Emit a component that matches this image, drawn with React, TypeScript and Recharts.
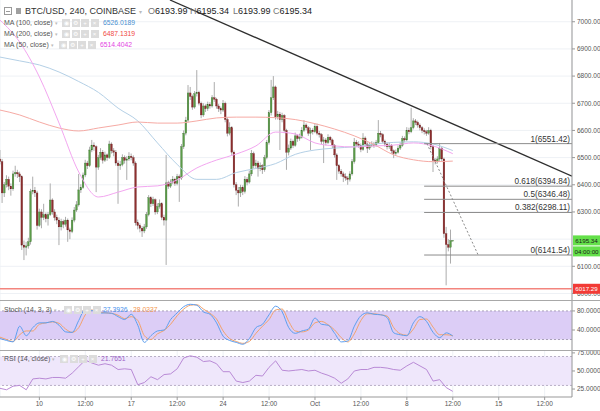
import React from "react";
import {
  ComposedChart,
  Bar,
  Line,
  XAxis,
  YAxis,
  CartesianGrid,
  ReferenceLine,
  ReferenceArea,
} from "recharts";

// 4h candles, BTC/USD Coinbase, from Sep 7 00:00 (index 0) to Oct 11 12:00 (index 207)
const opens = [
  6495, 6485, 6370, 6400, 6420, 6395, 6385, 6440, 6445, 6440,
  6430, 6178, 6170, 6175, 6190, 6375, 6380, 6370, 6250, 6300,
  6280, 6290, 6275, 6290, 6344, 6300, 6280, 6270, 6245, 6265,
  6255, 6270, 6234, 6228, 6270, 6307, 6326, 6381, 6390, 6436,
  6480, 6470, 6528, 6546, 6540, 6465, 6500, 6520, 6490, 6510,
  6500, 6550, 6525, 6520, 6480, 6470, 6475, 6500, 6490, 6495,
  6505, 6500, 6480, 6260, 6250, 6240, 6230, 6245, 6290, 6352,
  6330, 6345, 6300, 6320, 6330, 6280, 6270, 6407, 6395, 6410,
  6420, 6405, 6430, 6425, 6540, 6590, 6638, 6738, 6725, 6686,
  6735, 6740, 6700, 6657, 6690, 6680, 6695, 6690, 6720, 6715,
  6690, 6680, 6675, 6700, 6640, 6590, 6610, 6520, 6400, 6380,
  6370, 6390, 6375, 6420, 6410, 6440, 6515, 6470, 6480, 6460,
  6470, 6455, 6500, 6555, 6665, 6720, 6760, 6650, 6660, 6640,
  6655, 6600, 6520, 6535, 6560, 6545, 6580, 6570, 6575, 6600,
  6620, 6610, 6590, 6600, 6595, 6615, 6590, 6585, 6560, 6565,
  6555, 6575, 6565, 6545, 6510, 6470, 6450, 6440, 6430, 6425,
  6420, 6440, 6485, 6557, 6550, 6545, 6530, 6572, 6550, 6535,
  6545, 6550, 6545, 6555, 6590, 6585, 6560, 6550, 6540, 6545,
  6525, 6515, 6520, 6535, 6545, 6570, 6565, 6600, 6595, 6610,
  6635, 6630, 6620, 6610, 6600, 6595, 6590, 6600, 6540, 6490,
  6485, 6495, 6535, 6495, 6220, 6180, 6170, 6193.99,
];
const highs = [
  6528, 6495, 6410, 6435, 6430, 6405, 6452, 6470, 6455, 6448,
  6435, 6195, 6190, 6205, 6385, 6430, 6392, 6378, 6312, 6310,
  6330, 6298, 6300, 6405, 6350, 6310, 6290, 6280, 6275, 6272,
  6282, 6276, 6242, 6280, 6318, 6340, 6440, 6402, 6445, 6492,
  6488, 6540, 6565, 6556, 6545, 6510, 6535, 6528, 6522, 6515,
  6562, 6556, 6535, 6528, 6490, 6488, 6512, 6508, 6505, 6520,
  6515, 6508, 6486, 6272, 6258, 6248, 6256, 6300, 6362, 6358,
  6356, 6350, 6332, 6346, 6336, 6290, 6510, 6415, 6420, 6432,
  6426, 6440, 6438, 6550, 6600, 6650, 6767, 6760, 6732, 6745,
  6822, 6746, 6706, 6700, 6696, 6706, 6704, 6730, 6778, 6720,
  6698, 6688, 6712, 6706, 6648, 6630, 6616, 6526, 6410, 6392,
  6400, 6398, 6432, 6428, 6452, 6528, 6522, 6492, 6488, 6482,
  6476, 6510, 6565, 6675, 6786, 6800, 6765, 6672, 6668, 6665,
  6660, 6606, 6548, 6570, 6566, 6592, 6586, 6588, 6612, 6638,
  6626, 6616, 6610, 6608, 6626, 6625, 6598, 6590, 6576, 6572,
  6586, 6580, 6570, 6550, 6516, 6476, 6458, 6448, 6442, 6432,
  6450, 6495, 6572, 6565, 6560, 6552, 6590, 6578, 6556, 6555,
  6560, 6558, 6565, 6638, 6598, 6590, 6566, 6556, 6555, 6550,
  6530, 6530, 6545, 6556, 6580, 6578, 6612, 6610, 6683, 6645,
  6642, 6636, 6626, 6616, 6608, 6602, 6612, 6606, 6546, 6498,
  6505, 6554, 6540, 6500, 6245, 6200, 6235, 6195.34,
];
const lows = [
  6475, 6333, 6355, 6390, 6380, 6360, 6378, 6430, 6425, 6410,
  6160, 6123, 6140, 6165, 6180, 6365, 6355, 6235, 6245, 6240,
  6270, 6262, 6250, 6285, 6290, 6268, 6255, 6178, 6232, 6240,
  6246, 6190, 6200, 6222, 6262, 6300, 6320, 6370, 6385, 6428,
  6458, 6465, 6520, 6525, 6373, 6455, 6492, 6478, 6484, 6488,
  6495, 6515, 6505, 6470, 6330, 6455, 6468, 6478, 6418, 6488,
  6490, 6470, 6250, 6236, 6225, 6208, 6222, 6238, 6284, 6318,
  6322, 6290, 6292, 6312, 6270, 6250, 6105, 6385, 6388, 6402,
  6396, 6398, 6337, 6418, 6532, 6582, 6630, 6712, 6676, 6680,
  6725, 6692, 6645, 6650, 6668, 6672, 6680, 6684, 6705, 6680,
  6668, 6660, 6668, 6630, 6578, 6582, 6508, 6390, 6362, 6320,
  6355, 6362, 6368, 6398, 6404, 6432, 6460, 6462, 6430, 6450,
  6440, 6448, 6494, 6548, 6655, 6712, 6640, 6640, 6528, 6630,
  6590, 6455, 6508, 6528, 6535, 6540, 6558, 6562, 6570, 6594,
  6600, 6580, 6528, 6585, 6590, 6582, 6574, 6550, 6480, 6545,
  6550, 6555, 6535, 6500, 6418, 6440, 6430, 6410, 6415, 6400,
  6412, 6434, 6478, 6540, 6536, 6520, 6525, 6540, 6517, 6528,
  6538, 6536, 6540, 6550, 6575, 6552, 6540, 6530, 6532, 6515,
  6498, 6508, 6515, 6528, 6540, 6556, 6560, 6586, 6590, 6604,
  6620, 6610, 6600, 6590, 6585, 6580, 6584, 6530, 6447, 6475,
  6478, 6488, 6485, 6205, 6030, 6155, 6110, 6193.99,
];
const closes = [
  6485, 6370, 6400, 6420, 6395, 6385, 6440, 6445, 6440, 6430,
  6178, 6170, 6175, 6190, 6375, 6380, 6370, 6250, 6300, 6280,
  6290, 6275, 6290, 6344, 6300, 6280, 6270, 6245, 6265, 6255,
  6270, 6234, 6228, 6270, 6307, 6326, 6381, 6390, 6436, 6480,
  6470, 6528, 6546, 6540, 6465, 6500, 6520, 6490, 6510, 6500,
  6550, 6525, 6520, 6480, 6470, 6475, 6500, 6490, 6495, 6505,
  6500, 6480, 6260, 6250, 6240, 6230, 6245, 6290, 6352, 6330,
  6345, 6300, 6320, 6330, 6280, 6270, 6407, 6395, 6410, 6420,
  6405, 6430, 6425, 6540, 6590, 6638, 6738, 6725, 6686, 6735,
  6740, 6700, 6657, 6690, 6680, 6695, 6690, 6720, 6715, 6690,
  6680, 6675, 6700, 6640, 6590, 6610, 6520, 6400, 6380, 6370,
  6390, 6375, 6420, 6410, 6440, 6515, 6470, 6480, 6460, 6470,
  6455, 6500, 6555, 6665, 6720, 6760, 6650, 6660, 6640, 6655,
  6600, 6520, 6535, 6560, 6545, 6580, 6570, 6575, 6600, 6620,
  6610, 6590, 6600, 6595, 6615, 6590, 6585, 6560, 6565, 6555,
  6575, 6565, 6545, 6510, 6470, 6450, 6440, 6430, 6425, 6420,
  6440, 6485, 6557, 6550, 6545, 6530, 6572, 6550, 6535, 6545,
  6550, 6545, 6555, 6590, 6585, 6560, 6550, 6540, 6545, 6525,
  6515, 6520, 6535, 6545, 6570, 6565, 6600, 6595, 6610, 6635,
  6630, 6620, 6610, 6600, 6595, 6590, 6600, 6540, 6490, 6485,
  6495, 6535, 6495, 6220, 6180, 6170, 6193.99, 6195.34,
];

// moving averages, read every 9th candle
const MA_STEP = 9;
const ma100 = [6870, 6856, 6841, 6815, 6780, 6740, 6682, 6635, 6554, 6475, 6420, 6420, 6445, 6460, 6478, 6512, 6528, 6535, 6540, 6550, 6556, 6558, 6550, 6526.02];
const ma200 = [6675, 6657, 6631, 6609, 6598, 6609, 6620, 6631, 6627, 6627, 6635, 6646, 6649, 6649, 6647, 6640, 6625, 6605, 6580, 6548, 6510, 6492, 6485, 6487.13];
const ma50 = [7006, 6925, 6797, 6627, 6447, 6355, 6373, 6392, 6396, 6418, 6462, 6491, 6513, 6543, 6594, 6587, 6554, 6543, 6539, 6543, 6546, 6554, 6543, 6514.4];
const maLegend = ["6526.0189", "6487.1319", "6514.4042"];

// oscillators, read every 3rd candle
const IND_STEP = 3;
const stochK = [22, 18, 15, 48, 28, 45, 55, 55, 58, 50, 36, 35, 60, 84, 81, 75, 76, 75, 68, 62, 73, 50, 14, 28, 38, 40, 62, 76, 89, 94, 92, 78, 73, 55, 27, 18, 14, 10, 22, 45, 52, 72, 90, 78, 45, 33, 38, 42, 65, 52, 50, 33, 15, 17, 48, 70, 76, 73, 72, 66, 34, 30, 28, 55, 68, 58, 35, 24, 34, 27.39];
const stochD = [25, 20, 16, 30, 38, 38, 52, 55, 57, 54, 42, 35, 45, 72, 82, 78, 76, 75, 71, 64, 68, 60, 28, 20, 32, 39, 52, 70, 84, 92, 93, 84, 75, 63, 38, 22, 16, 12, 16, 33, 48, 62, 82, 84, 58, 38, 36, 40, 55, 58, 51, 40, 24, 15, 32, 60, 74, 74, 72, 69, 45, 32, 29, 42, 62, 63, 46, 30, 30, 28.03];
const rsi = [26, 24, 29, 30, 24, 39, 40, 39, 41, 41, 40, 47, 56, 65, 61, 58, 60, 58, 52, 53, 52, 31, 34, 42, 38, 45, 46, 53, 68, 71, 69, 63, 64, 60, 49, 49, 36, 34, 36, 44, 43, 55, 64, 51, 50, 51, 52, 50, 51, 47, 44, 40, 33, 39, 50, 52, 52, 55, 55, 54, 52, 51, 57, 62, 57, 52, 36, 38, 27, 21.77];
const stochLegend = ["27.3926", "28.0337"];
const rsiLegend = "21.7651";

const timeTicks = [18, 39, 60, 81, 102, 123, 144, 165, 186, 207, 228, 249];
const timeLabels = ["10", "12:00", "17", "12:00", "24", "12:00", "Oct", "12:00", "8", "12:00", "15", "12:00"];
// 6200 sits under the last-price tag, so it is not labelled
const priceTicks = [6000, 6100, 6300, 6400, 6500, 6600, 6700, 6800, 6900, 7000];
const gridPrices = [6000, 6100, 6200, 6300, 6400, 6500, 6600, 6700, 6800, 6900, 7000];

const fibRatios = ["1", "0.618", "0.5", "0.382", "0"];
const fibPrices = [6551.42, 6394.84, 6346.48, 6298.11, 6141.54];
const fibStart = 193.9;
const fibTrend = [
  { x: 195.2, y: 6551.42 },
  { x: 218.6, y: 6141.54 },
];
const trendLine = [
  { x: 77.7, y: 7080 },
  { x: 261.5, y: 6432 },
];
const supportPrice = 6017.29;
const countdown = "04:00:00";

const X_MAX = 261.5;
const PRICE_DOMAIN = [5976, 7080];
const FONT = '"Liberation Sans", Arial, sans-serif';
const AXIS_TICK = { fontSize: 6.5, fill: "#555", fontFamily: FONT };

const rows = closes.map((c, i) => ({
  i,
  o: opens[i],
  h: highs[i],
  l: lows[i],
  c,
  range: [lows[i], highs[i]],
  ma100: i % MA_STEP === 0 ? ma100[i / MA_STEP] : null,
  ma200: i % MA_STEP === 0 ? ma200[i / MA_STEP] : null,
  ma50: i % MA_STEP === 0 ? ma50[i / MA_STEP] : null,
}));

const indRows = stochK.map((k, j) => ({
  i: j * IND_STEP,
  k,
  d: stochD[j],
  rsi: rsi[j],
}));

function Candle(props: any) {
  const { x, y, width, height, payload } = props;
  if (x == null || !payload) return null;
  const { o, h, l, c } = payload;
  const top = Math.min(y, y + height);
  const hh = Math.abs(height);
  const cx = x + width / 2;
  const k = h > l ? hh / (h - l) : 0;
  const yOf = (v: number) => top + (h - v) * k;
  const up = c >= o;
  const bTop = yOf(Math.max(o, c));
  const bH = Math.max(0.8, Math.abs(yOf(o) - yOf(c)));
  return (
    <g>
      <line x1={cx} x2={cx} y1={top} y2={top + hh} stroke="#a3a3a3" strokeWidth={0.9} />
      <rect
        x={cx - 0.85}
        y={bTop}
        width={1.7}
        height={bH}
        fill={up ? "#5b9c49" : "#8e2f2f"}
        stroke={up ? "#3c6e30" : "#6a1f1f"}
        strokeWidth={0.3}
      />
    </g>
  );
}

const priceTag = (lines: string[], bg: string, fg: string) => (p: any) => {
  const vb = p.viewBox;
  if (!vb) return null;
  const x0 = vb.x + vb.width + 1;
  const yc = vb.y;
  return (
    <g>
      {lines.map((t, n) => (
        <g key={n}>
          <rect x={x0} y={yc - 5 + n * 11} width={27} height={10} fill={bg} />
          <text
            x={x0 + 13.5}
            y={yc + 2.3 + n * 11}
            fontSize={6.2}
            fill={fg}
            fontFamily={FONT}
            textAnchor="middle"
          >
            {t}
          </text>
        </g>
      ))}
    </g>
  );
};

function Icons({ left, top }: { left: number; top: number }) {
  const glyphs = ["◉", "⚙", "+", "×"];
  return (
    <div style={{ position: "absolute", left, top, display: "flex", gap: 1.5 }}>
      {glyphs.map((g, n) => (
        <span
          key={n}
          style={{
            width: 8,
            height: 8,
            background: "#dcdcdc",
            color: "#fff",
            fontSize: 6,
            lineHeight: "8px",
            textAlign: "center",
            display: "inline-block",
          }}
        >
          {g}
        </span>
      ))}
    </div>
  );
}

function LegendRow(props: {
  top: number;
  label: string;
  iconsAt: number;
  values: { text: string; color: string; left: number }[];
}) {
  return (
    <>
      <div style={{ position: "absolute", left: 4, top: props.top, fontSize: 7, color: "#555", whiteSpace: "nowrap", lineHeight: "8px" }}>
        {props.label} <span style={{ color: "#bbb", fontSize: 5 }}>▾</span>
      </div>
      <Icons left={props.iconsAt} top={props.top} />
      {props.values.map((v, n) => (
        <div key={n} style={{ position: "absolute", left: v.left, top: props.top, fontSize: 6.8, color: v.color, lineHeight: "8px" }}>
          {v.text}
        </div>
      ))}
    </>
  );
}

export default function App() {
  const last = rows.length - 1;
  return (
    <div
      style={{
        position: "absolute",
        left: 0,
        top: 0,
        width: 600,
        height: 411,
        background: "#fff",
        overflow: "hidden",
        fontFamily: FONT,
      }}
    >
      {/* main price pane */}
      <div style={{ position: "absolute", left: 0, top: 0 }}>
        <ComposedChart width={600} height={300} data={rows} margin={{ top: 0, right: 0, bottom: 0, left: 0 }}>
          <CartesianGrid stroke="#eef1f5" horizontalValues={gridPrices} />
          <XAxis
            dataKey="i"
            type="number"
            domain={[0, X_MAX]}
            ticks={timeTicks}
            allowDataOverflow
            height={0}
            tick={false}
            axisLine={false}
            tickLine={false}
          />
          <YAxis
            orientation="right"
            width={28}
            domain={PRICE_DOMAIN}
            ticks={priceTicks}
            interval={0}
            allowDataOverflow
            tick={AXIS_TICK}
            tickSize={3}
            tickMargin={2}
            tickLine={{ stroke: "#999" }}
            axisLine={{ stroke: "#999" }}
            tickFormatter={(v: number) => v.toFixed(2)}
          />
          <Line type="monotone" dataKey="ma100" stroke="#b4d0e6" strokeWidth={1} dot={false} connectNulls isAnimationActive={false} />
          <Line type="monotone" dataKey="ma200" stroke="#f6aaa4" strokeWidth={1} dot={false} connectNulls isAnimationActive={false} />
          <Line type="monotone" dataKey="ma50" stroke="#f3a6f0" strokeWidth={1} dot={false} connectNulls isAnimationActive={false} />
          <Bar dataKey="range" barSize={2} shape={<Candle />} isAnimationActive={false} />
          <ReferenceLine segment={trendLine} stroke="#2e2e2e" strokeWidth={1.3} ifOverflow="hidden" />
          <ReferenceLine segment={fibTrend} stroke="#8a8a8a" strokeDasharray="2 2" ifOverflow="hidden" />
          {fibPrices.map((p, n) => (
            <ReferenceLine
              key={n}
              segment={[
                { x: fibStart, y: p },
                { x: X_MAX, y: p },
              ]}
              stroke="#8c8c8c"
              ifOverflow="hidden"
              label={{
                value: `${fibRatios[n]}(${p.toFixed(2)})`,
                position: "insideBottomRight",
                offset: 2,
                fontSize: 8.2,
                fill: "#333",
                fontFamily: FONT,
              }}
            />
          ))}
        </ComposedChart>
      </div>

      {/* overlay with the price-axis tags, drawn above the axis labels */}
      <div style={{ position: "absolute", left: 0, top: 0 }}>
        <ComposedChart width={600} height={300} data={rows} margin={{ top: 0, right: 0, bottom: 0, left: 0 }}>
          <XAxis dataKey="i" type="number" domain={[0, X_MAX]} allowDataOverflow height={0} tick={false} axisLine={false} tickLine={false} />
          <YAxis orientation="right" width={28} domain={PRICE_DOMAIN} allowDataOverflow tick={false} axisLine={false} tickLine={false} />
          <ReferenceLine
            y={supportPrice}
            stroke="#f3857e"
            strokeWidth={1.6}
            label={priceTag([supportPrice.toFixed(2)], "#f23b36", "#fff")}
          />
          <ReferenceLine
            y={closes[last]}
            stroke="none"
            strokeOpacity={0}
            label={priceTag([closes[last].toFixed(2), countdown], "#64e04a", "#1a1a1a")}
          />
        </ComposedChart>
      </div>

      {/* stochastic pane */}
      <div style={{ position: "absolute", left: 0, top: 300 }}>
        <ComposedChart width={600} height={50} data={indRows} margin={{ top: 0, right: 0, bottom: 0, left: 0 }}>
          <CartesianGrid stroke="#eef1f5" horizontal={false} />
          <XAxis dataKey="i" type="number" domain={[0, X_MAX]} ticks={timeTicks} allowDataOverflow height={0} tick={false} axisLine={false} tickLine={false} />
          <YAxis
            orientation="right"
            width={28}
            domain={[-2, 103]}
            ticks={[40, 80]}
            interval={0}
            allowDataOverflow
            tick={AXIS_TICK}
            tickSize={3}
            tickMargin={2}
            tickLine={{ stroke: "#999" }}
            axisLine={{ stroke: "#999" }}
            tickFormatter={(v: number) => v.toFixed(4)}
          />
          <ReferenceArea y1={20} y2={80} fill="#dccdf6" fillOpacity={1} stroke="none" />
          <ReferenceLine y={80} stroke="#a9a0b8" strokeDasharray="2 2" />
          <ReferenceLine y={20} stroke="#a9a0b8" strokeDasharray="2 2" />
          <Line type="monotone" dataKey="d" stroke="#f3a26c" strokeWidth={1} dot={false} isAnimationActive={false} />
          <Line type="monotone" dataKey="k" stroke="#5d9ff0" strokeWidth={1} dot={false} isAnimationActive={false} />
        </ComposedChart>
      </div>

      {/* RSI pane + time axis */}
      <div style={{ position: "absolute", left: 0, top: 350 }}>
        <ComposedChart width={600} height={61} data={indRows} margin={{ top: 0, right: 0, bottom: 0, left: 0 }}>
          <CartesianGrid stroke="#eef1f5" horizontal={false} />
          <XAxis
            dataKey="i"
            type="number"
            domain={[0, X_MAX]}
            ticks={timeTicks}
            interval={0}
            allowDataOverflow
            height={14}
            tick={AXIS_TICK}
            tickSize={3}
            tickMargin={1}
            tickLine={{ stroke: "#999" }}
            axisLine={{ stroke: "#999" }}
            tickFormatter={(v: number) => timeLabels[timeTicks.indexOf(v)]}
          />
          <YAxis
            orientation="right"
            width={28}
            domain={[14, 79]}
            ticks={[25, 50, 75]}
            interval={0}
            allowDataOverflow
            tick={AXIS_TICK}
            tickSize={3}
            tickMargin={2}
            tickLine={{ stroke: "#999" }}
            axisLine={{ stroke: "#999" }}
            tickFormatter={(v: number) => v.toFixed(4)}
          />
          <ReferenceArea y1={30} y2={70} fill="#efe7fb" fillOpacity={1} stroke="none" />
          <ReferenceLine y={70} stroke="#b8b0c6" strokeDasharray="2 2" />
          <ReferenceLine y={30} stroke="#b8b0c6" strokeDasharray="2 2" />
          <Line type="linear" dataKey="rsi" stroke="#b98ad6" strokeWidth={1} dot={false} isAnimationActive={false} />
        </ComposedChart>
      </div>

      {/* pane separators */}
      <div style={{ position: "absolute", left: 0, top: 299.5, width: 600, height: 1, background: "#a8a8a8" }} />
      <div style={{ position: "absolute", left: 0, top: 349.5, width: 600, height: 1, background: "#a8a8a8" }} />

      {/* header */}
      <div style={{ position: "absolute", left: 4, top: 7, width: 6, height: 6, border: "1px solid #9a9a9a" }}>
        <div style={{ position: "absolute", left: 1, top: 2.5, width: 4, height: 1, background: "#9a9a9a" }} />
      </div>
      <div style={{ position: "absolute", left: 16, top: 8, width: 5, height: 6, background: "#a0a0a0" }} />
      <div style={{ position: "absolute", left: 25, top: 6, fontSize: 9, color: "#333", lineHeight: "11px", whiteSpace: "nowrap" }}>
        BTC/USD, 240, COINBASE <span style={{ color: "#bbb", fontSize: 6 }}>▾</span>
      </div>
      {[
        { k: "O", v: opens[last], left: 148 },
        { k: "H", v: highs[last], left: 190 },
        { k: "L", v: lows[last], left: 233 },
        { k: "C", v: closes[last], left: 273 },
      ].map((q) => (
        <div key={q.k} style={{ position: "absolute", left: q.left, top: 6, fontSize: 9, lineHeight: "11px", whiteSpace: "nowrap" }}>
          <span style={{ color: "#777" }}>{q.k}</span>
          <span style={{ color: "#222" }}>{q.v.toFixed(2)}</span>
        </div>
      ))}

      <LegendRow top={19} label="MA (100, close)" iconsAt={62} values={[{ text: maLegend[0], color: "#4a8fd0", left: 103 }]} />
      <LegendRow top={30} label="MA (200, close)" iconsAt={62} values={[{ text: maLegend[1], color: "#f04a44", left: 103 }]} />
      <LegendRow top={41} label="MA (50, close)" iconsAt={59} values={[{ text: maLegend[2], color: "#e345e3", left: 100 }]} />

      <LegendRow
        top={306}
        label="Stoch (14, 3, 3)"
        iconsAt={64}
        values={[
          { text: stochLegend[0], color: "#4b94ee", left: 103 },
          { text: stochLegend[1], color: "#f39852", left: 133 },
        ]}
      />
      <LegendRow top={355} label="RSI (14, close)" iconsAt={60} values={[{ text: rsiLegend, color: "#a065c8", left: 101 }]} />
    </div>
  );
}
